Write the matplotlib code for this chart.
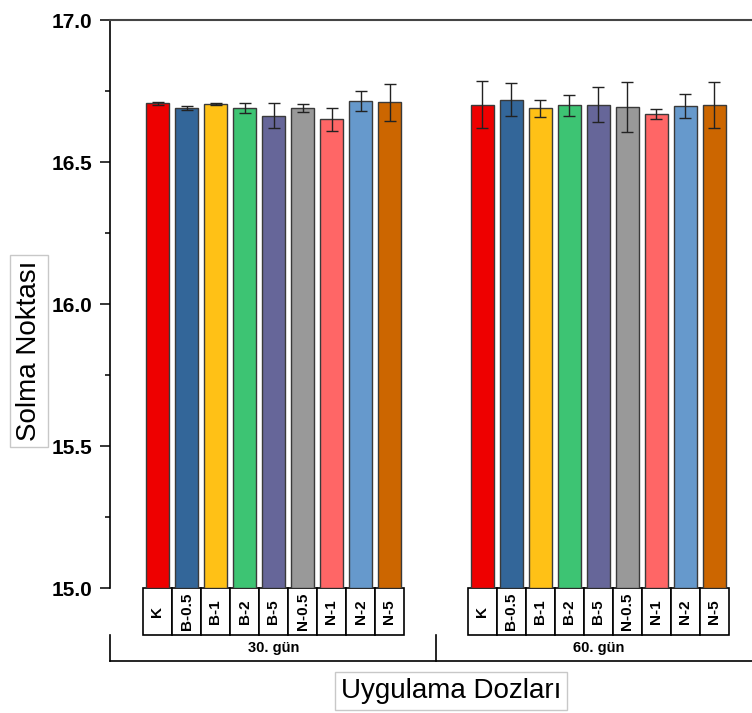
import numpy as np
import matplotlib
matplotlib.use('Agg')
import matplotlib.pyplot as plt
import matplotlib.transforms as mtransforms
from matplotlib.patches import Rectangle
from matplotlib.ticker import MultipleLocator, FormatStrFormatter

plt.rcParams['font.family'] = ['Liberation Sans', 'DejaVu Sans']

doses = ['K', 'B-0.5', 'B-1', 'B-2', 'B-5', 'N-0.5', 'N-1', 'N-2', 'N-5']
groups = ['30. gün', '60. gün']

mean_30 = [16.706, 16.690, 16.703, 16.689, 16.663, 16.690, 16.650, 16.715, 16.710]
err_30 = [0.004, 0.008, 0.004, 0.017, 0.045, 0.015, 0.041, 0.034, 0.065]
mean_60 = [16.702, 16.720, 16.689, 16.699, 16.702, 16.693, 16.669, 16.696, 16.700]
err_60 = [0.082, 0.059, 0.029, 0.036, 0.062, 0.089, 0.016, 0.042, 0.081]

colors = ['#EE0000', '#336699', '#FFC116', '#3DC473', '#666699',
          '#999999', '#FF6666', '#6699CC', '#CC6600']

W, H = 752, 713
fig = plt.figure(figsize=(W / 100, H / 100), dpi=100)
ax = fig.add_axes([110 / W, (H - 588) / H, (W - 110) / W, (588 - 20) / H])

group_gap = 11.2
means = [mean_30, mean_60]
errs = [err_30, err_60]
trans = mtransforms.blended_transform_factory(ax.transData, ax.transAxes)
box_h = 47 / 568

for g in range(2):
    x = np.arange(len(doses)) + g * group_gap
    ax.bar(x, np.array(means[g]) - 15, bottom=15, width=0.8, color=colors,
           edgecolor='#3a3a3a', linewidth=1, zorder=2)
    ax.errorbar(x, means[g], yerr=errs[g], fmt='none', ecolor='#222222',
                elinewidth=1, capsize=4.5, capthick=1, zorder=3)
    # label boxes under each bar
    for xi, name in zip(x, doses):
        ax.add_patch(Rectangle((xi - 0.5, -box_h), 1, box_h, transform=trans,
                               facecolor='white', edgecolor='black',
                               linewidth=1.2, clip_on=False))
        ax.text(xi, -box_h / 2, name, transform=trans, rotation=90,
                ha='center', va='center', fontsize=11, fontweight='bold')
    ax.text(x.mean(), -0.1056, groups[g], transform=trans, ha='center',
            va='center', fontsize=10.5, fontweight='bold')

ax.set_ylim(15.0, 17.0)
xl = -47.5 / 29
xr = (752 - 157.5) / 29
ax.set_xlim(xl, xr)

# group bracket
y1, y2 = -0.0827, -0.1285
mid = (len(doses) - 1 + group_gap) / 2
line_kw = dict(transform=trans, color='black', linewidth=1.2, clip_on=False)
ax.plot([xl, xl], [y1, y2], **line_kw)
ax.plot([mid, mid], [y1, y2], **line_kw)
ax.plot([xl, xr], [y2, y2], **line_kw)

ax.yaxis.set_major_locator(MultipleLocator(0.5))
ax.yaxis.set_minor_locator(MultipleLocator(0.25))
ax.yaxis.set_major_formatter(FormatStrFormatter('%.1f'))
ax.tick_params(axis='y', which='major', direction='out', length=7, width=1.1,
               labelsize=15, pad=6)
ax.tick_params(axis='y', which='minor', direction='out', length=3.5, width=1.1)
for lab in ax.get_yticklabels():
    lab.set_fontweight('bold')
ax.set_xticks([])

ax.spines['right'].set_visible(False)
ax.spines['bottom'].set_visible(False)
ax.spines['left'].set_linewidth(1.2)
ax.spines['top'].set_linewidth(1.5)
ax.spines['top'].set_color('#444444')

box = dict(boxstyle='square,pad=0.2', facecolor='white', edgecolor='#c8c8c8',
           linewidth=1)
fig.text(451 / W, 1 - 691 / H, 'Uygulama Dozları', ha='center', va='center',
         fontsize=20, bbox=box)
fig.text(29 / W, 1 - 351 / H, 'Solma Noktası', ha='center', va='center',
         rotation=90, fontsize=20, bbox=box)

fig.savefig('out.png', dpi=100)
